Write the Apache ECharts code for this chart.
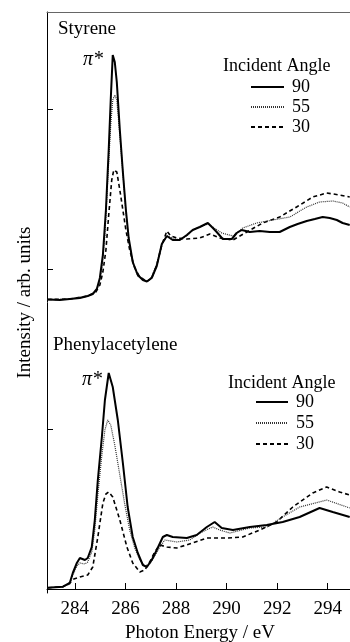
<!DOCTYPE html>
<html>
<head>
<meta charset="utf-8">
<script src="https://cdn.jsdelivr.net/npm/echarts@6/dist/echarts.min.js"></script>
<style>html,body{margin:0;padding:0;background:#fff;font-family:'Liberation Serif',serif}#c{width:350px;height:642px}</style>
</head>
<body>
<div id="c"></div>
<script>
// Photon energy ticks (eV)
const xTicks = [284, 286, 288, 290, 292, 294];
// y-axis tick positions (arb. units)
const yTicks = [16, 32, 48];
const legendNames = ['90', '55', '30'];

// Styrene (upper panel) — [photon energy, intensity]
const styrene90 = [[282.93,28.95],[283.41,28.9],[283.80,29.0],[284.20,29.1],[284.51,29.3],[284.71,29.5],[284.87,30.0],[284.99,31.1],[285.11,33.4],[285.23,37.9],[285.34,43.9],[285.42,48.9],[285.50,53.4],[285.58,52.7],[285.66,50.7],[285.78,45.9],[285.90,41.7],[286.02,37.9],[286.13,35.1],[286.29,32.7],[286.49,31.4],[286.69,30.9],[286.85,30.75],[287.04,31.1],[287.24,32.3],[287.44,34.5],[287.64,35.3],[287.87,34.9],[288.15,34.9],[288.43,35.4],[288.66,35.9],[288.94,36.2],[289.26,36.6],[289.46,36.1],[289.61,35.7],[289.85,35.0],[290.21,35.0],[290.40,35.6],[290.60,35.9],[290.92,35.7],[291.31,35.8],[291.71,35.7],[292.10,35.7],[292.50,36.2],[292.81,36.5],[293.17,36.8],[293.49,37.0],[293.80,37.2],[294.08,37.1],[294.36,36.9],[294.59,36.6],[294.87,36.4]];
const styrene55 = [[282.93,28.95],[283.80,29.0],[284.51,29.3],[284.79,29.7],[284.95,30.4],[285.07,32.1],[285.19,35.4],[285.30,40.9],[285.42,46.4],[285.50,48.9],[285.58,49.4],[285.66,48.9],[285.78,45.4],[285.90,41.7],[286.02,37.7],[286.13,34.9],[286.29,32.6],[286.49,31.3],[286.85,30.75],[287.04,31.2],[287.24,32.5],[287.44,34.4],[287.64,35.3],[287.87,35.1],[288.15,34.9],[288.43,35.3],[288.66,35.9],[288.94,36.2],[289.26,36.5],[289.45,36.2],[289.81,35.6],[290.25,35.3],[290.64,36.1],[291.19,36.6],[291.83,36.9],[292.50,37.2],[293.17,38.2],[293.68,38.7],[294.20,38.8],[294.59,38.6],[294.87,38.2]];
const styrene30 = [[282.93,28.95],[283.80,29.0],[284.51,29.3],[284.83,29.7],[284.99,30.4],[285.11,31.7],[285.23,33.9],[285.34,37.4],[285.46,40.9],[285.54,41.9],[285.58,42.1],[285.66,41.7],[285.78,39.9],[285.90,37.9],[286.02,35.9],[286.17,33.9],[286.37,32.1],[286.57,31.2],[286.85,30.75],[287.04,31.1],[287.24,32.4],[287.44,34.4],[287.64,35.8],[287.79,35.3],[288.03,35.1],[288.43,35.0],[288.94,35.1],[289.34,35.5],[289.73,35.1],[290.25,34.9],[290.80,35.7],[291.43,36.6],[292.10,37.2],[292.77,38.2],[293.41,39.2],[293.96,39.6],[294.47,39.4],[294.87,39.2]];

// Phenylacetylene (lower panel) — [photon energy, intensity]
const phenyl90 = [[282.93,0.13],[283.53,0.23],[283.80,0.6],[283.92,1.6],[284.08,2.6],[284.20,3.1],[284.40,2.9],[284.51,3.1],[284.67,4.2],[284.79,6.9],[284.91,10.9],[285.07,15.2],[285.19,18.9],[285.34,21.6],[285.50,20.2],[285.70,16.9],[285.90,12.6],[286.09,8.2],[286.29,5.2],[286.49,3.6],[286.69,2.4],[286.85,2.2],[287.04,2.9],[287.24,3.9],[287.48,5.2],[287.64,5.4],[287.87,5.2],[288.43,5.1],[288.82,5.4],[289.22,6.2],[289.53,6.7],[289.81,6.1],[290.25,5.9],[290.92,6.2],[291.59,6.4],[292.22,6.7],[292.89,7.2],[293.68,8.1],[294.20,7.7],[294.87,7.2]];
const phenyl55 = [[282.93,0.13],[283.53,0.23],[283.80,0.5],[283.92,1.4],[284.08,2.3],[284.20,2.6],[284.40,2.5],[284.51,2.7],[284.67,3.7],[284.79,5.9],[284.91,9.4],[285.07,13.4],[285.19,15.9],[285.30,16.9],[285.42,16.4],[285.58,14.4],[285.78,11.4],[285.98,8.4],[286.17,5.9],[286.37,4.1],[286.57,2.9],[286.77,2.3],[286.96,2.5],[287.16,3.3],[287.36,4.2],[287.56,4.9],[288.03,4.7],[288.55,4.9],[288.94,5.6],[289.45,6.2],[289.73,5.9],[290.13,5.6],[290.92,6.1],[291.59,6.2],[292.22,7.2],[292.89,8.2],[293.96,8.9],[294.87,8.1]];
const phenyl30 = [[282.93,0.13],[283.53,0.23],[283.80,0.6],[283.96,1.0],[284.20,1.2],[284.51,1.4],[284.71,2.2],[284.91,5.2],[285.11,8.6],[285.23,9.5],[285.34,9.7],[285.50,9.2],[285.78,6.9],[286.06,4.2],[286.29,2.6],[286.57,1.7],[286.77,1.9],[286.96,2.7],[287.16,3.7],[287.36,4.4],[287.64,4.2],[288.03,4.1],[288.66,4.6],[289.22,5.1],[290.01,5.1],[290.64,5.2],[291.31,5.9],[291.98,6.7],[292.62,8.2],[293.41,9.6],[293.96,10.2],[294.47,9.7],[294.87,9.4]];

const FONT = 'Liberation Serif';
const styles = {
  '90': { type: 'solid', width: 2, color: '#000' },
  '55': { type: [1, 1], width: 1.2, color: '#333' },
  '30': { type: [4, 3], width: 1.6, color: '#000' }
};
function mk(name, data) {
  return { name: name, type: 'line', data: data, symbol: 'none', showSymbol: false,
    lineStyle: styles[name], itemStyle: { color: styles[name].color }, silent: true, animation: false, z: name === '90' ? 4 : 3 };
}
function legendAt(left, top, iw, gap) {
  return { data: legendNames, orient: 'vertical', left: left, top: top, padding: 0,
    itemWidth: iw, itemHeight: 14, itemGap: gap, selectedMode: false,
    itemStyle: { opacity: 0, borderWidth: 0 },
    textStyle: { fontFamily: FONT, fontSize: 18, lineHeight: 18, color: '#000', padding: [0, 0, 0, 3] } };
}
function label(x, y, text, size, italic) {
  return { type: 'text', x: x, y: y, style: { text: text, fontFamily: FONT, fontSize: size,
    fontStyle: italic ? 'italic' : 'normal', fill: '#000', verticalAlign: 'middle' } };
}

const chart = echarts.init(document.getElementById('c'), null, { renderer: 'canvas' });
chart.setOption({
  animation: false,
  backgroundColor: '#fff',
  textStyle: { fontFamily: FONT },
  grid: { left: 47, top: 12, width: 306, height: 581, show: false, outerBoundsMode: 'none', containLabel: false },
  xAxis: [{
    type: 'value', min: 282.9, max: 295,
    name: 'Photon Energy / eV', nameLocation: 'middle', nameGap: 31,
    nameTextStyle: { fontFamily: FONT, fontSize: 19, color: '#000' },
    axisLine: { show: true, lineStyle: { color: '#000', width: 1 } },
    axisTick: { show: true, inside: true, length: 6, customValues: xTicks, lineStyle: { color: '#000' } },
    axisLabel: { customValues: xTicks, fontFamily: FONT, fontSize: 19, color: '#000', margin: 7 },
    splitLine: { show: false }
  }, {
    type: 'value', min: 282.9, max: 295, position: 'top',
    axisLine: { show: true, lineStyle: { color: '#666', width: 1 } },
    axisTick: { show: false }, axisLabel: { show: false }, splitLine: { show: false }
  }],
  yAxis: {
    type: 'value', min: -0.4, max: 57.7,
    name: 'Intensity / arb. units', nameLocation: 'middle', nameGap: 12,
    nameTextStyle: { fontFamily: FONT, fontSize: 19, color: '#000' },
    axisLine: { show: true, lineStyle: { color: '#000', width: 1 } },
    axisTick: { show: true, inside: true, length: 6, customValues: yTicks, lineStyle: { color: '#000' } },
    axisLabel: { show: false },
    splitLine: { show: false }
  },
  legend: [ legendAt(250, 78, 33, 2), legendAt(255, 393, 32, 3) ],
  graphic: [
    label(58, 29, 'Styrene', 19, false),
    label(83, 60, 'π*', 20, true),
    label(223, 66, 'Incident Angle', 18, false),
    label(53, 345, 'Phenylacetylene', 19, false),
    label(82, 380, 'π*', 20, true),
    label(228, 383, 'Incident Angle', 18, false)
  ],
  series: [
    mk('30', styrene30), mk('55', styrene55), mk('90', styrene90),
    mk('30', phenyl30), mk('55', phenyl55), mk('90', phenyl90)
  ]
});
</script>
</body>
</html>
